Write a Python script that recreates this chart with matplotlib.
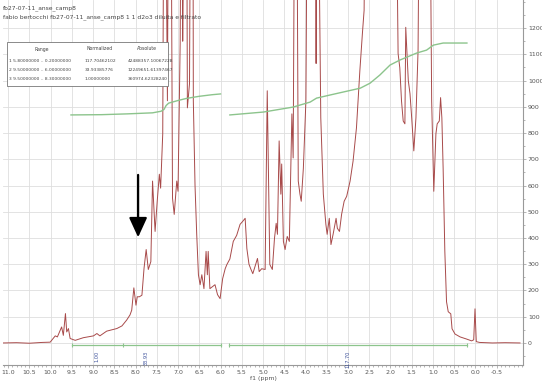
import matplotlib.pyplot as plt
from matplotlib.ticker import MultipleLocator

# spectrum trace (ppm, intensity); 2000/3000 = off scale
ppm = [11.12, 10.8, 10.5, 10.2, 10.01, 9.89, 9.84, 9.74, 9.70, 9.65, 9.62, 9.58, 9.54, 9.42,
       9.23, 8.99, 8.91, 8.84, 8.68, 8.44, 8.32, 8.21, 8.13, 8.09, 8.04, 7.99, 7.96, 7.91,
       7.85, 7.80, 7.75, 7.70, 7.64, 7.60, 7.54, 7.49, 7.44, 7.41, 7.36, 7.33, 7.30, 7.25,
       7.22, 7.17, 7.13, 7.09, 7.03, 7.00, 6.95, 6.92, 6.89, 6.84, 6.80, 6.78, 6.73, 6.70,
       6.65, 6.64, 6.60, 6.56, 6.52, 6.48, 6.44, 6.39, 6.34, 6.31, 6.29, 6.25, 6.13, 6.07,
       6.01, 5.95, 5.89, 5.85, 5.78, 5.70, 5.62, 5.54, 5.48, 5.42, 5.38, 5.33, 5.29, 5.24,
       5.19, 5.13, 5.09, 5.03, 4.95, 4.90, 4.84, 4.78, 4.73, 4.69, 4.66, 4.62, 4.58, 4.56,
       4.52, 4.48, 4.43, 4.38, 4.32, 4.29, 4.25, 4.21, 4.17, 4.13, 4.10, 4.05, 3.99, 3.95,
       3.85, 3.78, 3.75, 3.72, 3.68, 3.64, 3.58, 3.52, 3.49, 3.44, 3.40, 3.35, 3.28, 3.25,
       3.20, 3.15, 3.09, 3.03, 2.95, 2.88, 2.80, 2.72, 2.66, 2.62, 2.58, 2.4, 2.2, 2.0,
       1.88, 1.82, 1.78, 1.74, 1.70, 1.66, 1.64, 1.58, 1.54, 1.50, 1.45, 1.40, 1.35, 1.31,
       1.2, 1.08, 1.03, 0.98, 0.93, 0.90, 0.85, 0.82, 0.79, 0.76, 0.72, 0.68, 0.64, 0.58,
       0.55, 0.48, 0.36, 0.21, 0.09, 0.04, 0.01, -0.02, -0.1, -0.4, -0.7, -1.05]
intensity = [0, 1, -1, 2, 3, 27, 23, 61, 29, 112, 42, 55, 17, 10,
             20, 27, 36, 27, 45, 55, 65, 87, 107, 125, 210, 144, 176, 176,
             182, 285, 356, 280, 310, 617, 425, 540, 643, 590, 797, 2000, 2000, 923,
             2000, 2000, 552, 490, 617, 578, 1140, 2000, 1150, 2000, 2000, 896, 988, 2000,
             2000, 923, 600, 413, 260, 222, 260, 207, 349, 260, 349, 207, 222, 184,
             169, 245, 283, 299, 320, 387, 410, 452, 463, 475, 360, 300, 283, 264,
             291, 322, 272, 283, 280, 961, 299, 280, 398, 456, 414, 770, 567, 682,
             387, 356, 406, 387, 873, 705, 2000, 2000, 617, 567, 540, 666, 923, 2000,
             2000, 2000, 1065, 2000, 1500, 858, 567, 452, 414, 475, 375, 414, 475, 437,
             425, 490, 540, 559, 617, 693, 820, 1038, 1180, 1268, 2000, 3000, 3000, 3000,
             2000, 1103, 1049, 923, 846, 835, 1203, 1000, 950, 858, 732, 858, 1115, 2000,
             3000, 2000, 923, 578, 797, 835, 846, 935, 858, 666, 349, 157, 119, 111,
             54, 34, 23, 15, 8, 12, 130, 5, 2, 0, 1, 0]

# integral curves
int1_ppm = [9.52, 8.8, 8.2, 7.6, 7.40, 7.33, 7.28, 7.22, 7.0, 6.8, 6.5, 6.2, 6.0]
int1_val = [869, 870, 873, 877, 883, 890, 905, 914, 924, 932, 940, 946, 949]
int2_ppm = [5.78, 4.99, 4.29, 3.89, 3.74, 3.42, 2.71, 2.48, 2.25, 2.01, 1.78, 1.38, 1.15,
            0.99, 0.76, 0.2]
int2_val = [869, 880, 899, 918, 933, 945, 971, 990, 1021, 1059, 1078, 1105, 1116,
            1135, 1143, 1143]

# integral regions and labels
regions = [(9.5, 6.0), (5.8, 0.2)]
region_ticks = [9.5, 8.3, 6.0, 5.8, 0.2]
label_pos = [8.9, 7.75, 3.0]
label_txt = ['1.00', '33.93', '117.70']

table_rows = ['1 5.80000000 .. 0.20000000', '2 9.50000000 .. 6.00000000',
              '3 9.50000000 .. 8.30000000']
table_norm = ['117.70462102', '33.93385776', '1.00000000']
table_abs = ['42488357.10067228', '12249651.61397467', '360974.62328240']

fig = plt.figure(figsize=(5.42, 3.87), dpi=100)
ax = fig.add_axes([3 / 542, 22 / 387, 520 / 542, 365 / 387])
ax.set_xlim(11.12, -1.12)
ax.set_ylim(-84, 1307)

ax.grid(True, color='#dedede', lw=0.6)
ax.xaxis.set_major_locator(MultipleLocator(0.5))
ax.xaxis.set_minor_locator(MultipleLocator(0.1))
ax.yaxis.set_major_locator(MultipleLocator(100))
ax.yaxis.set_minor_locator(MultipleLocator(50))
ax.set_axisbelow(True)

ax.plot(ppm, intensity, color='#a84a4a', lw=0.7)
ax.plot(int1_ppm, int1_val, color='#8cc48c', lw=1.0)
ax.plot(int2_ppm, int2_val, color='#8cc48c', lw=1.0)

for a, b in regions:
    ax.plot([a, b], [-8, -8], color='#8cc48c', lw=0.9)
ax.plot(region_ticks, [-8] * len(region_ticks), '|', color='#8cc48c', ms=3, mew=0.8)
for p, t in zip(label_pos, label_txt):
    ax.text(p, -30, t, rotation=90, ha='center', va='top', fontsize=3.6, color='#3a4f9a')

ax.annotate('', xy=(7.94, 392), xytext=(7.94, 651),
            arrowprops=dict(arrowstyle='-|>,head_length=1.2,head_width=0.55',
                            color='black', lw=1.6))

for s in ['left', 'top']:
    ax.spines[s].set_visible(False)
ax.spines['right'].set_color('#999999')
ax.spines['bottom'].set_color('#999999')
ax.yaxis.tick_right()
ax.tick_params(axis='both', which='both', colors='#999999', labelcolor='#555555',
               labelsize=4.5, length=2, width=0.5, pad=1.5)
ax.tick_params(axis='both', which='minor', length=1.2)
ax.set_yticks(range(0, 1201, 100))
ax.set_xticks([v / 2 for v in range(22, -2, -1)])
ax.set_xticklabels([f'{v / 2:.1f}' for v in range(22, -2, -1)])
ax.set_xlabel('f1 (ppm)', fontsize=4.5, color='#555555', labelpad=1)

fig.text(3 / 542, 1 - 8 / 387, 'fb27-07-11_anse_camp8', fontsize=4.3, color='#444444',
         va='center')
fig.text(3 / 542, 1 - 17 / 387,
         'fabio bertocchi fb27-07-11_anse_camp8 1 1 d2o3 diluita e filtrato',
         fontsize=4.3, color='#444444', va='center')

# table box
box = plt.Rectangle((7 / 542, 1 - 86 / 387), 161 / 542, 44 / 387, transform=fig.transFigure,
                    fill=True, facecolor='white', edgecolor='#777777', lw=0.6, zorder=5)
fig.add_artist(box)
hy = 1 - 49 / 387
fig.text(42 / 542, hy, 'Range', fontsize=3.3, color='#444444', ha='center', va='center',
         zorder=6)
fig.text(100 / 542, hy, 'Normalized', fontsize=3.3, color='#444444', ha='center',
         va='center', zorder=6)
fig.text(147 / 542, hy, 'Absolute', fontsize=3.3, color='#444444', ha='center',
         va='center', zorder=6)
for i, (r, n, a) in enumerate(zip(table_rows, table_norm, table_abs)):
    ry = 1 - (61 + 9 * i) / 387
    fig.text(9 / 542, ry, r, fontsize=3.2, color='#444444', va='center', zorder=6)
    fig.text(85 / 542, ry, n, fontsize=3.2, color='#444444', va='center', zorder=6)
    fig.text(128 / 542, ry, a, fontsize=3.2, color='#444444', va='center', zorder=6)

fig.savefig('out.png', dpi=100)
